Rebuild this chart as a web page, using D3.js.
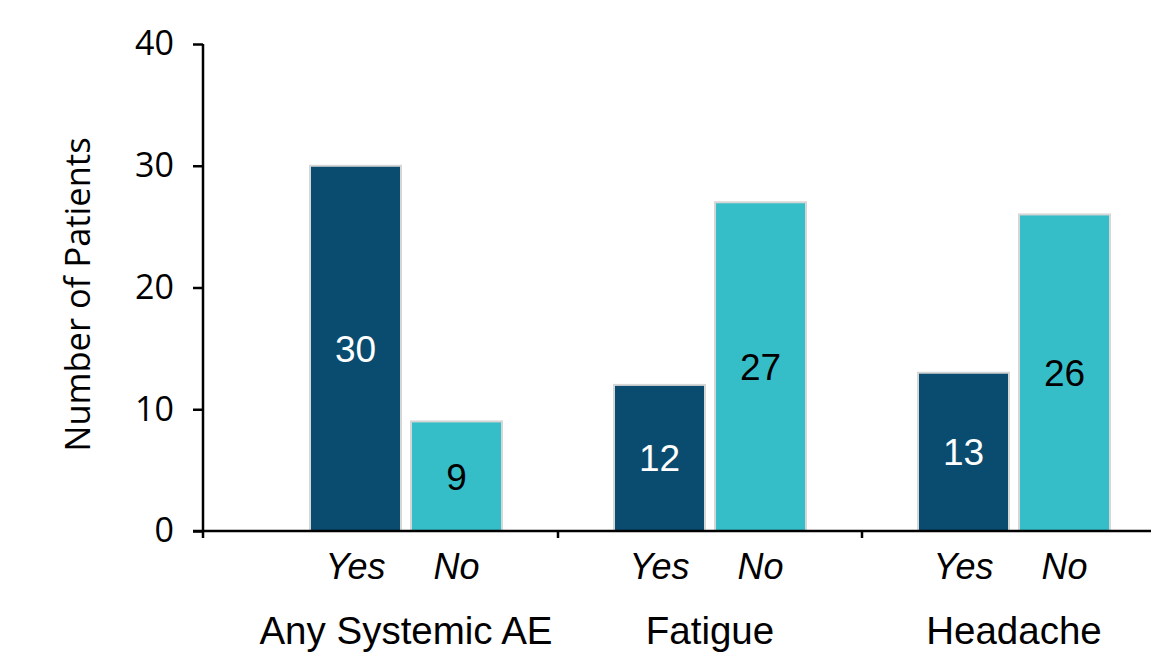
<!DOCTYPE html>
<html>
<head>
<meta charset="utf-8">
<script src="https://cdn.jsdelivr.net/npm/d3@7/dist/d3.min.js"></script>
<style>
  html, body { margin: 0; padding: 0; background: #fff; }
  svg { display: block; }
</style>
</head>
<body>
<svg id="chart" width="1151" height="653"></svg>
<script>
// Patient counts per adverse-event category, split by response
const categories = ["Any Systemic AE", "Fatigue", "Headache"];
const responses = ["Yes", "No"];
const yesValues = [30, 12, 13];
const noValues = [9, 27, 26];
const yTicks = [0, 10, 20, 30, 40];

const colors = { Yes: "#0a4c70", No: "#36bec8" };
const labelColors = { Yes: "#ffffff", No: "#000000" };

const rows = categories.map((c, i) => ({ category: c, Yes: yesValues[i], No: noValues[i] }));

const svg = d3.select("#chart");
const axisX = 203, baseY = 531, topY = 44;

const x = d3.scaleBand().domain(categories).range([254, 1166]).padding(0);
const xSub = d3.scaleBand().domain(responses).range([56, 248]).paddingInner(0.099).paddingOuter(0);
const y = d3.scaleLinear().domain([0, 40]).range([baseY, topY]);

// Bars
const groups = svg.selectAll("g.group").data(rows).join("g")
  .attr("class", "group")
  .attr("transform", d => `translate(${x(d.category)},0)`);

groups.selectAll("rect").data(d => responses.map(r => ({ r, v: d[r] }))).join("rect")
  .attr("x", d => xSub(d.r))
  .attr("width", xSub.bandwidth())
  .attr("y", d => y(d.v))
  .attr("height", d => y(0) - y(d.v))
  .attr("fill", d => colors[d.r])
  .attr("stroke", "#d6d6d6")
  .attr("stroke-width", 2);

// Value labels centred inside each bar
groups.selectAll("text.val").data(d => responses.map(r => ({ r, v: d[r] }))).join("text")
  .attr("class", "val")
  .attr("x", d => xSub(d.r) + xSub.bandwidth() / 2)
  .attr("y", d => (y(d.v) + y(0)) / 2)
  .attr("dy", "0.36em")
  .attr("text-anchor", "middle")
  .attr("font-family", "Liberation Sans, Arial, sans-serif")
  .attr("font-size", 37)
  .attr("fill", d => labelColors[d.r])
  .text(d => d.v);

// Yes / No sub-labels
groups.selectAll("text.resp").data(responses).join("text")
  .attr("class", "resp")
  .attr("x", r => xSub(r) + xSub.bandwidth() / 2)
  .attr("y", 579)
  .attr("text-anchor", "middle")
  .attr("font-family", "Liberation Sans, Arial, sans-serif")
  .attr("font-style", "italic")
  .attr("font-size", 36)
  .attr("fill", "#000")
  .text(r => r);

// Category labels
groups.append("text")
  .attr("x", x.bandwidth() / 2)
  .attr("y", 644)
  .attr("text-anchor", "middle")
  .attr("font-family", "Liberation Sans, Arial, sans-serif")
  .attr("font-size", 38.5)
  .attr("fill", "#000")
  .text(d => d.category);

// Y axis
const yAxis = d3.axisLeft(y).tickValues(yTicks).tickSize(10).tickPadding(19);
const gy = svg.append("g").attr("transform", `translate(${axisX},0)`).call(yAxis);
gy.select(".domain").remove();
gy.append("line").attr("x1", 0).attr("x2", 0).attr("y1", topY).attr("y2", baseY + 7)
  .attr("stroke", "#000").attr("stroke-width", 2.5);
gy.selectAll(".tick line").attr("stroke", "#000").attr("stroke-width", 2.5);
gy.selectAll(".tick text")
  .attr("font-family", "Open Sans, sans-serif")
  .attr("font-size", 34)
  .attr("fill", "#000");

// X axis baseline with separators between categories
svg.append("line")
  .attr("x1", axisX - 10).attr("x2", 1166)
  .attr("y1", baseY).attr("y2", baseY)
  .attr("stroke", "#000").attr("stroke-width", 2.5);
svg.selectAll("line.sep").data(categories.slice(1)).join("line")
  .attr("class", "sep")
  .attr("x1", d => x(d)).attr("x2", d => x(d))
  .attr("y1", baseY).attr("y2", baseY + 7)
  .attr("stroke", "#000").attr("stroke-width", 2.5);

// Y axis title
svg.append("text")
  .attr("transform", `translate(90,${(137 + 452) / 2}) rotate(-90)`)
  .attr("text-anchor", "middle")
  .attr("font-family", "Open Sans, sans-serif")
  .attr("font-size", 34.5)
  .attr("fill", "#000")
  .text("Number of Patients");
</script>
</body>
</html>
